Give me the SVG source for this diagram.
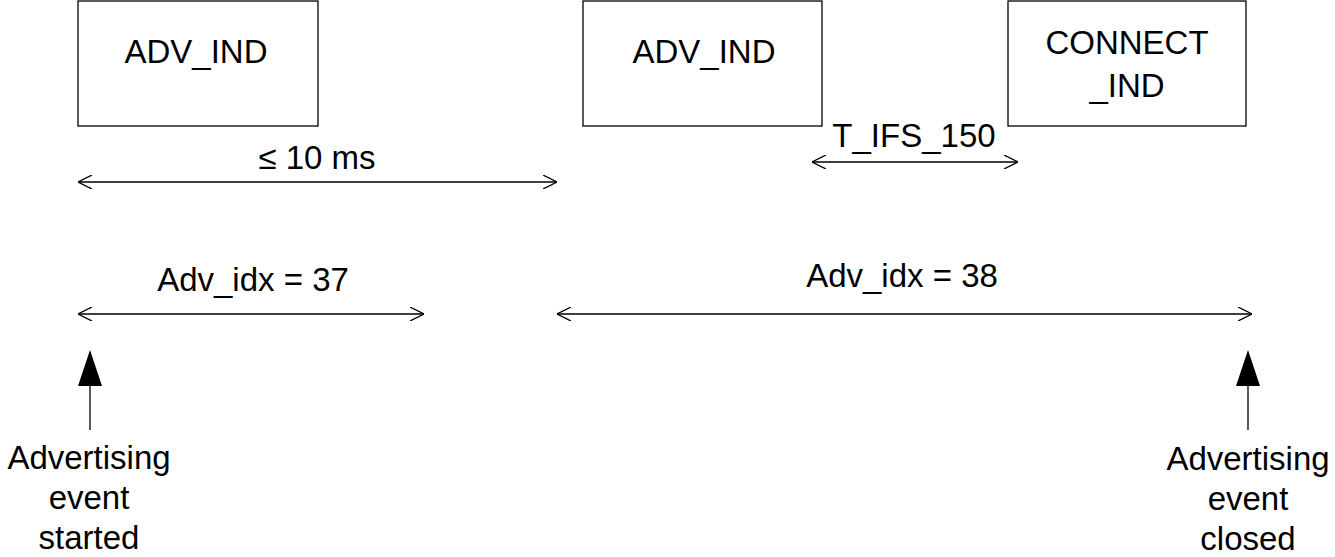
<svg xmlns="http://www.w3.org/2000/svg" width="1335" height="557" viewBox="0 0 1335 557">
<style>
.b{fill:#fff;stroke:#000;stroke-width:1.3}
.l{stroke:#000;stroke-width:1.3;fill:none}
text{font-family:"Liberation Sans",Arial,sans-serif;font-size:33px;fill:#000;text-anchor:middle}
</style>
<defs>
<marker id="o" viewBox="0 0 14 14" refX="14" refY="7" markerWidth="14" markerHeight="14" markerUnits="userSpaceOnUse" orient="auto-start-reverse"><path d="M0,0 L14,7 L0,14" fill="none" stroke="#000" stroke-width="1.3"/></marker>
</defs>
<rect width="1335" height="557" fill="#fff"/>
<g id="n1"><rect class="b" x="78" y="1" width="240" height="125"/><text x="196" y="63">ADV_IND</text></g>
<g id="n2"><rect class="b" x="583" y="1" width="239" height="125"/><text x="704" y="63">ADV_IND</text></g>
<g id="n3"><rect class="b" x="1008" y="1" width="238" height="125"/><text x="1127" y="54">CONNECT</text><text x="1127" y="97">_IND</text></g>
<g id="connectors">
<line class="l" x1="78" y1="182" x2="557" y2="182" marker-start="url(#o)" marker-end="url(#o)"/>
<line class="l" x1="812" y1="162" x2="1018" y2="162" marker-start="url(#o)" marker-end="url(#o)"/>
<line class="l" x1="78" y1="314" x2="424" y2="314" marker-start="url(#o)" marker-end="url(#o)"/>
<line class="l" x1="557" y1="314" x2="1252" y2="314" marker-start="url(#o)" marker-end="url(#o)"/>
<line class="l" x1="90" y1="384" x2="90" y2="430"/>
<polygon points="90,350 78,386 102,386" fill="#000"/>
<line class="l" x1="1248" y1="384" x2="1248" y2="430"/>
<polygon points="1248,350 1236,386 1260,386" fill="#000"/>
</g>
<g id="labels">
<text x="317" y="169">≤ 10 ms</text>
<text x="914" y="147">T_IFS_150</text>
<text x="253" y="291">Adv_idx = 37</text>
<text x="902" y="287">Adv_idx = 38</text>
<text x="89" y="469">Advertising</text><text x="89" y="509">event</text><text x="89" y="549">started</text>
<text x="1248" y="470">Advertising</text><text x="1248" y="510">event</text><text x="1248" y="550">closed</text>
</g>
</svg>
